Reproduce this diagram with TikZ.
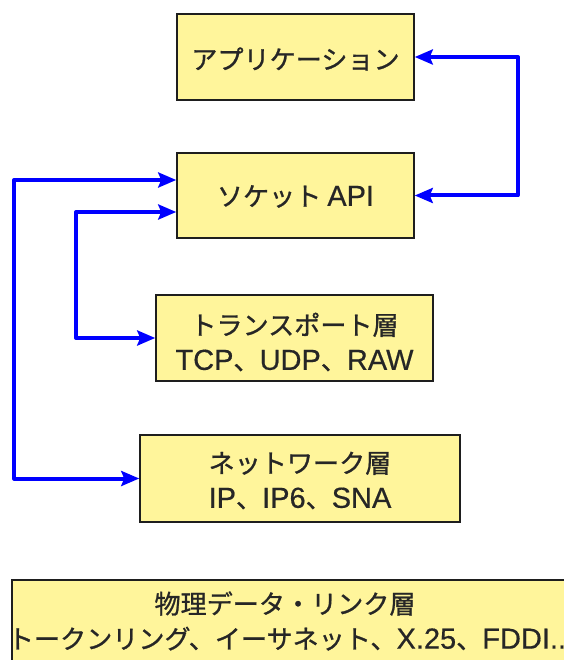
\documentclass[tikz,border=0pt]{standalone}
\usepackage{fontspec}
\setmainfont{Liberation Sans}[FakeBold=0.5]
\newfontfamily\jpfam{Noto Sans CJK JP}[Scale=0.9,FakeBold=0.9]
\newcommand\JP[1]{{\jpfam #1}}
\usetikzlibrary{arrows.meta}
\definecolor{boxfill}{RGB}{255,245,155}
\definecolor{boxline}{RGB}{30,30,30}
\definecolor{linkblue}{RGB}{0,0,255}
\tikzset{
  layerbox/.style={draw=boxline, fill=boxfill, line width=1.5pt, inner sep=0pt},
  layertext/.style={inner sep=0pt, align=center, text=black!85,
    font=\fontsize{29}{35}\selectfont\addfontfeature{FakeBold=0.5}},
  link/.style={draw=linkblue, line width=4pt, line join=round,
    {Stealth[length=18pt,width=15pt,inset=3pt]}-{Stealth[length=18pt,width=15pt,inset=3pt]}}
}
\begin{document}
\begin{tikzpicture}[x=1pt,y=-1pt]
\useasboundingbox (0,0) rectangle (563,660);
\node[layerbox, minimum width=237pt, minimum height=86pt] (app) at (295.5,57) {};
\node[layerbox, minimum width=237pt, minimum height=85pt] (socket) at (295.5,195.5) {};
\node[layerbox, minimum width=277pt, minimum height=86pt] (transport) at (294.5,338) {};
\node[layerbox, minimum width=320pt, minimum height=87pt] (network) at (300,478.5) {};
\node[layerbox, minimum width=558pt, minimum height=82pt] (physical) at (291,621) {};
\node[layertext] (apptext) at ([yshift=-2pt]app.center) {\JP{アプリケーション}};
\node[layertext] (sockettext) at ([yshift=-1pt]socket.center) {\JP{ソケット}\hspace{6pt}API};
\node[layertext] (transporttext) at ([yshift=-4pt]transport.center) {\JP{トランスポート層}\\TCP\JP{、}UDP\JP{、}RAW};
\node[layertext] (networktext) at ([yshift=-2pt]network.center) {\JP{ネットワーク層}\\IP\JP{、}IP6\JP{、}SNA};
\node[layertext] (physicaltext) at (physical.center)
  {\makebox[0pt]{\hspace*{-12pt}\JP{物理データ・リンク層}}\\\makebox[0pt]{\JP{トークンリング、イーサネット、}X.25\JP{、}FDDI...}};
\draw[link] (app.east) -- ++(103,0) |- (socket.east);
\draw[link] ([yshift=15.5pt]socket.west) -- ++(-162,0) |- (network.west);
\draw[link] ([yshift=-16.5pt]socket.west) -- ++(-100,0) |- (transport.west);
\end{tikzpicture}
\end{document}
